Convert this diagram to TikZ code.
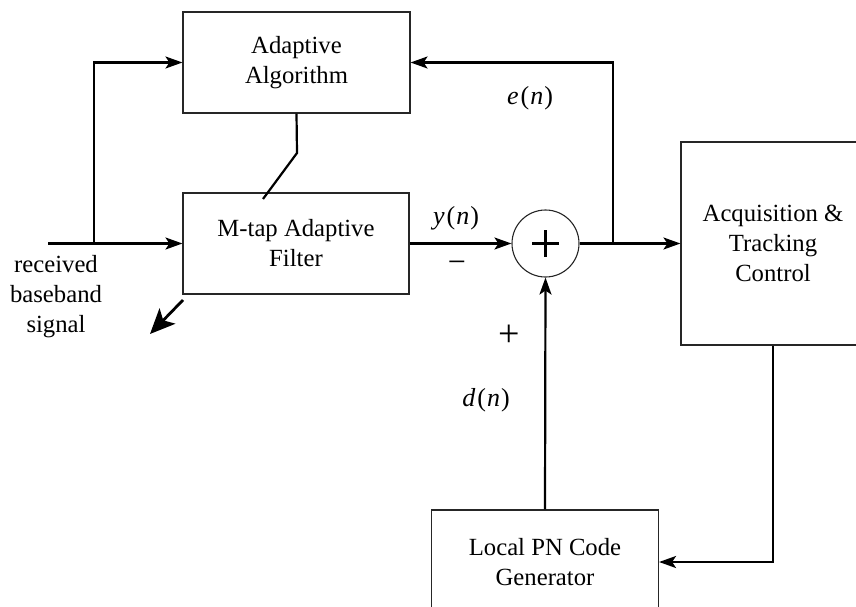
\documentclass[tikz,border=0pt]{standalone}
\usepackage{fontspec}
\setmainfont{Liberation Serif}
\usetikzlibrary{arrows.meta,calc}

\newcommand{\sigvar}[1]{\textit{#1}\kern2pt(\kern1pt\textit{n}\kern1pt)}

\begin{document}
\begin{tikzpicture}[x=1pt,y=-1pt,
  txt/.style={font=\fontsize{24.7}{30}\selectfont, align=center},
  block/.style={txt, draw=black!85, line width=1.1pt, rectangle, inner sep=0pt},
  sig/.style={line width=2.2pt, -{Stealth[length=17pt,width=12pt,inset=4pt]}},
  wire/.style={line width=2.2pt},
  lbl/.style={font=\fontsize{26}{30}\selectfont, inner sep=0pt}
]
\useasboundingbox (0,0) rectangle (856,607);
\clip (0,0) rectangle (856,607);

% blocks
\node[block, minimum width=227pt, minimum height=101pt] (aa) at (296.5,62.5) {Adaptive\\Algorithm};
\node[block, minimum width=226pt, minimum height=101pt] (mt) at (296,243.5) {M-tap Adaptive\\Filter};
\node[block, minimum width=184pt, minimum height=203pt] (acq) at (773,243.5) {Acquisition \&\\Tracking\\Control};
\node[block, minimum width=227pt, minimum height=104pt] (pn) at (545,562) {Local PN Code\\Generator};

% summing junction
\node[draw=black!85, line width=1.1pt, circle, minimum size=67pt, inner sep=0pt] (sum) at (545.5,243.5) {};
\draw[line width=2.6pt] ($(sum.center)+(-13.5,0)$) -- ($(sum.center)+(13.5,0)$);
\draw[line width=2.6pt] ($(sum.center)+(0,-13.5)$) -- ($(sum.center)+(0,13.5)$);

% input signal and its branch to the adaptive algorithm
\coordinate (in) at (48,243.5);
\coordinate (br1) at (94,243.5);
\draw[sig] (in) -- (mt.west);
\draw[sig] (br1) |- (aa.west);
\node[txt, inner sep=0pt] (rx) at (56,297) {received\\baseband\\signal};

% filter output into the summer
\draw[sig] (mt.east) -- (sum.west);

% error signal to tracking control and back to the algorithm
\coordinate (br2) at (613,243.5);
\draw[sig] (sum.east) -- (acq.west);
\draw[sig] (br2) |- (aa.east);

% weight update link
\coordinate (bend) at (297,153);
\coordinate (tapin) at (263,199);
\draw[wire] (aa.south) -- (bend) -- (tapin);

% tracking control to local code generator
\draw[sig] (acq.south) |- (pn.east);

% local code into the summer
\draw[sig] (pn.north) -- (sum.south);

% weight output arrow
\coordinate (wo1) at (183,300);
\coordinate (wo2) at (150,334);
\draw[line width=2.8pt, -{Stealth[length=25pt,width=22pt,inset=6pt]}] (wo1) -- (wo2);

% labels
\node[lbl] (ly) at (456,218) {\sigvar{y}};
\node[lbl] (le) at (530,98) {\sigvar{e}};
\node[lbl] (ld) at (486,400) {\sigvar{d}};
\node[lbl, font=\fontsize{32}{34}\selectfont] (lm) at (457,267) {\symbol{"2212}};
\node[lbl, font=\fontsize{38}{40}\selectfont] (lp) at (509,336) {+};
\end{tikzpicture}
\end{document}
